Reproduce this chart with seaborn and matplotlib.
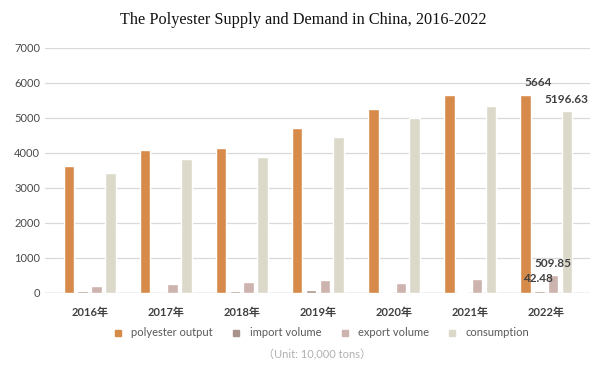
import pandas as pd
import seaborn as sns
import matplotlib.pyplot as plt
from matplotlib.lines import Line2D

years = ["2016年", "2017年", "2018年", "2019年", "2020年", "2021年", "2022年"]
series = ["polyester output", "import volume", "export volume", "consumption"]
polyester_output = [3625, 4080, 4135, 4700, 5245, 5670, 5664]
import_volume = [40, 8, 40, 80, 30, 30, 42.48]
export_volume = [200, 250, 305, 380, 280, 385, 509.85]
consumption = [3440, 3840, 3890, 4470, 5005, 5330, 5196.63]
colors = ["#D68B4B", "#A8928A", "#CDB3AE", "#DCD9CB"]

df = pd.DataFrame({
    "year": years * 4,
    "series": [s for s in series for _ in years],
    "value": polyester_output + import_volume + export_volume + consumption,
})

sns.set_theme(style="white")
plt.rcParams["font.family"] = ["Lato", "Noto Sans CJK SC", "DejaVu Sans"]

fig = plt.figure(figsize=(6.06, 3.75), dpi=100)
ax = fig.add_axes([0.074, 0.219, 0.90, 0.653])

sns.barplot(
    data=df, x="year", y="value", hue="series",
    palette=colors, width=0.73, gap=0.23,
    legend=False, ax=ax, saturation=1,
)

ax.set_ylim(0, 7000)
ax.set_xlim(-0.59, 6.58)
ax.set_yticks(range(0, 7001, 1000))
ax.yaxis.grid(True, color="#D9D9D9", linewidth=0.9)
ax.set_axisbelow(True)
for s in ["top", "right", "left", "bottom"]:
    ax.spines[s].set_visible(False)
ax.axhline(0, color="#D0D0D0", linewidth=1.0, zorder=0.5)
ax.set_xlabel("")
ax.set_ylabel("")
ax.tick_params(axis="y", labelsize=8, labelcolor="#4a4a4a", length=0, pad=3.5)
ax.tick_params(axis="x", labelsize=8, labelcolor="#404040", length=0, pad=10)
for t in ax.get_xticklabels():
    t.set_fontweight("bold")

# data labels for 2022
lab = dict(fontsize=8.5, fontweight="bold", color="#404040")
ax.text(5.89, polyester_output[6] + 180, "5664", ha="center", va="bottom", **lab)
ax.text(6.27, consumption[6] + 180, "5196.63", ha="center", va="bottom", **lab)
ax.text(6.09, export_volume[6] + 170, "509.85", ha="center", va="bottom", **lab)
ax.text(5.89, import_volume[6] + 200, "42.48", ha="center", va="bottom", **lab)

fig.suptitle("The Polyester Supply and Demand in China, 2016-2022",
             family="Liberation Serif", fontsize=11.7, y=0.968, color="#111111")

handles = [Line2D([], [], marker="s", linestyle="", markersize=5,
                  markerfacecolor=c, markeredgecolor=c) for c in colors]
fig.legend(handles, series, loc="center", bbox_to_anchor=(0.525, 0.112),
           ncol=4, frameon=False, fontsize=8, labelcolor="#595959",
           handletextpad=0.2, columnspacing=1.1)

fig.text(0.523, 0.055, "（Unit: 10,000 tons）", ha="center", va="center",
         fontsize=8, color="#B0B0B0")

fig.savefig("out.png", dpi=100)
